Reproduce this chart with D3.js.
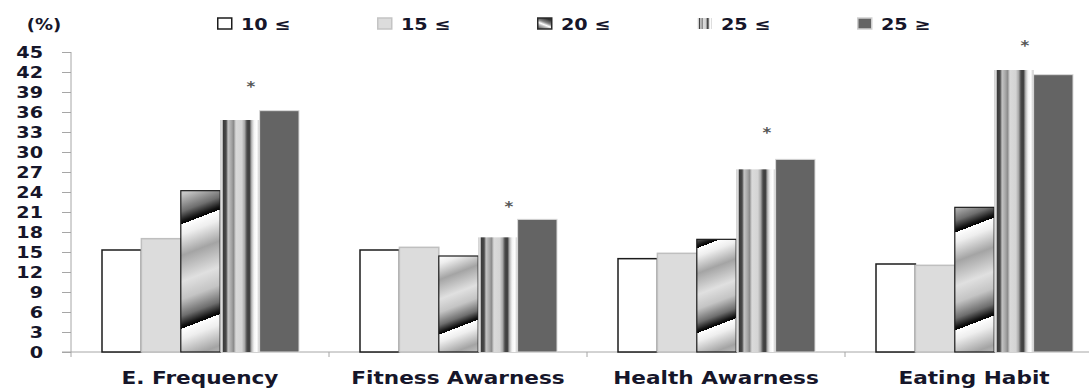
<!DOCTYPE html>
<html lang="en">
<head>
    <meta charset="UTF-8">
    <title>BMI groups</title>
    <style>
        body { margin: 0; background: #fff; }
        text { font-family: "DejaVu Sans", sans-serif; font-weight: bold; fill: #16162a; }
    </style>
</head>
<body>
    <script src="https://d3js.org/d3.v7.min.js"></script>
    <svg id="vis"></svg>
    <script>
        // Data
        const categories = ["E. Frequency", "Fitness Awarness", "Health Awarness", "Eating Habit"]
        const seriesNames = ["10 ≤", "15 ≤", "20 ≤", "25 ≤", "25 ≥"]
        const values10 = [15.3, 15.3, 14.0, 13.2]
        const values15 = [17.0, 15.7, 14.8, 13.0]
        const values20 = [24.2, 14.4, 16.9, 21.7]
        const values25 = [34.8, 17.2, 27.4, 42.3]
        const values25up = [36.2, 19.9, 28.9, 41.6]
        const starValues = [40.4, 22.3, 33.4, 46.5]   // where the * marks sit
        const yTicks = [0, 3, 6, 9, 12, 15, 18, 21, 24, 27, 30, 33, 36, 39, 42, 45]

        // Configurations
        const width = 1089
        const height = 388
        const textStretch = 1.2
        const grey = "#a6a6a6"

        const valueSeries = [values10, values15, values20, values25, values25up]
        const rows = categories.map((c, ci) => ({
            category: c,
            ci: ci,
            values: seriesNames.map((s, si) => ({ series: s, si: si, ci: ci, value: valueSeries[si][ci] }))
        }))

        const svg = d3.select('#vis').attr("width", width).attr("height", height)
        const defs = svg.append("defs")

        const y = d3.scaleLinear().domain([0, 45]).range([352, 52])
        const x = d3.scaleBand().domain(categories).range([71, 1103])
        const x1 = d3.scaleBand().domain(seriesNames).range([31, 228])

        // stretched bold text like the original
        function label(g, px, py, txt, size, anchor) {
            return g.append("text")
                .attr("transform", `translate(${px},${py}) scale(${textStretch},1)`)
                .attr("text-anchor", anchor || "start")
                .style("font-size", size + "px")
                .text(txt)
        }

        // vertical stripes gradient (25 ≤)
        const stripeStops = [
            [0, "#c8c8c8"], [0.05, "#e6e6e6"], [0.08, "#3a3a3a"], [0.15, "#4a4a4a"], [0.2, "#c4c4c4"],
            [0.28, "#a8a8a8"], [0.34, "#8c8c8c"], [0.4, "#dadada"], [0.55, "#d4d4d4"], [0.62, "#a8a8a8"],
            [0.68, "#4a4a4a"], [0.74, "#3c3c3c"], [0.8, "#bcbcbc"], [0.86, "#f4f4f4"], [0.93, "#ffffff"], [1, "#c4c4c4"]
        ]
        const stripes = defs.append("linearGradient").attr("id", "stripes")
            .attr("x1", 0).attr("x2", 1).attr("y1", 0).attr("y2", 0)
        stripes.selectAll("stop").data(stripeStops).join("stop")
            .attr("offset", d => d[0]).attr("stop-color", d => d[1])

        // diagonal metallic gradient (20 ≤), one per bar so it starts from the bar bottom
        // (coordinates are in the group's local space)
        const hatchStops = [
            [0, "#ffffff"], [0.1, "#eeeeee"], [0.3, "#a4a4a4"], [0.55, "#e0e0e0"], [0.72, "#c4c4c4"],
            [0.88, "#6e6e6e"], [0.97, "#141414"], [1, "#000"]
        ]
        const hatch = defs.selectAll(".hatch").data(rows).join("linearGradient")
            .attr("class", "hatch")
            .attr("id", d => "hatch" + d.ci)
            .attr("gradientUnits", "userSpaceOnUse")
            .attr("spreadMethod", "repeat")
            .each(function (d) {
                const h = y(0) - y(values20[d.ci])
                const p = 40 + 0.4 * h
                const x0 = x1(seriesNames[2])
                const y0 = y(0) - 0.22 * p
                d3.select(this)
                    .attr("x1", x0).attr("y1", y0)
                    .attr("x2", x0 + 0.335 * p).attr("y2", y0 + 0.871 * p)
            })
        hatch.selectAll("stop").data(hatchStops).join("stop")
            .attr("offset", d => d[0]).attr("stop-color", d => d[1])

        const legendHatch = defs.append("linearGradient").attr("id", "legendHatch")
            .attr("x1", 0).attr("y1", 1).attr("x2", 0.5).attr("y2", 0)
        legendHatch.selectAll("stop").data([[0, "#444"], [0.35, "#bbb"], [0.5, "#fff"], [0.7, "#888"], [1, "#333"]]).join("stop")
            .attr("offset", d => d[0]).attr("stop-color", d => d[1])

        const fills = ["#ffffff", "#dcdcdc", null, "url(#stripes)", "#646464"]
        const strokes = ["#1c1c1c", "#bfbfbf", "#1c1c1c", "none", "#dadada"]
        const strokeWidths = [1.5, 1.5, 1.2, 0, 1]

        // Axes
        const yAxis = svg.append("g")
            .attr("transform", "translate(71,0)")
            .call(d3.axisLeft(y).tickValues(yTicks).tickSize(9).tickFormat(""))
        yAxis.select(".domain").attr("stroke", grey).attr("d", `M0,${y(45)}V${y(0)}`)
        yAxis.selectAll(".tick line").attr("stroke", grey)
        yTicks.forEach(t => label(svg, 43, y(t) + 6, t, 16, "end"))

        const xAxis = svg.append("g")
            .attr("transform", `translate(0,${y(0)})`)
            .call(d3.axisBottom(x).tickSize(0).tickFormat(""))
        xAxis.select(".domain").attr("stroke", grey).attr("d", `M62,0H${width}`)
        xAxis.selectAll(".bound").data(categories).join("line")
            .attr("x1", d => x(d)).attr("x2", d => x(d))
            .attr("y1", 0).attr("y2", 5)
            .attr("stroke", grey)

        // Bars
        const groups = svg.selectAll(".group").data(rows).join("g")
            .attr("class", "group")
            .attr("transform", d => `translate(${x(d.category)},0)`)

        groups.selectAll("rect").data(d => d.values).join("rect")
            .attr("x", d => x1(d.series))
            .attr("y", d => y(d.value))
            .attr("width", x1.bandwidth())
            .attr("height", d => y(0) - y(d.value))
            .attr("fill", d => d.si === 2 ? `url(#hatch${d.ci})` : fills[d.si])
            .attr("stroke", d => strokes[d.si])
            .attr("stroke-width", d => strokeWidths[d.si])

        // significance marks
        groups.each(function (d) {
            const cx = x1(seriesNames[3]) + x1.bandwidth() / 2 + 11
            label(d3.select(this), cx, y(starValues[d.ci]) + 8, "*", 14, "middle").style("fill", "#555")
        })

        // Category labels
        categories.forEach(c => label(svg, x(c) + x.bandwidth() / 2, 384, c, 18, "middle"))

        // Legend
        label(svg, 44, 30, "(%)", 15, "middle")
        const legendFills = ["#ffffff", "#dcdcdc", "url(#legendHatch)", "url(#stripes)", "#646464"]
        const legendStrokes = ["#1c1c1c", "#c4c4c4", "#2a2a2a", "none", "#cfcfcf"]
        const legend = svg.selectAll(".legend").data(seriesNames).join("g")
            .attr("class", "legend")
            .attr("transform", (d, i) => `translate(${217 + i * 160},0)`)
        legend.append("rect")
            .attr("x", 0.75).attr("y", 18)
            .attr("width", 14).attr("height", 11)
            .attr("fill", (d, i) => legendFills[i])
            .attr("stroke", (d, i) => legendStrokes[i])
            .attr("stroke-width", 1.5)
        legend.each(function (d) {
            label(d3.select(this), 24, 30, d, 16, "start")
        })
    </script>
</body>
</html>
